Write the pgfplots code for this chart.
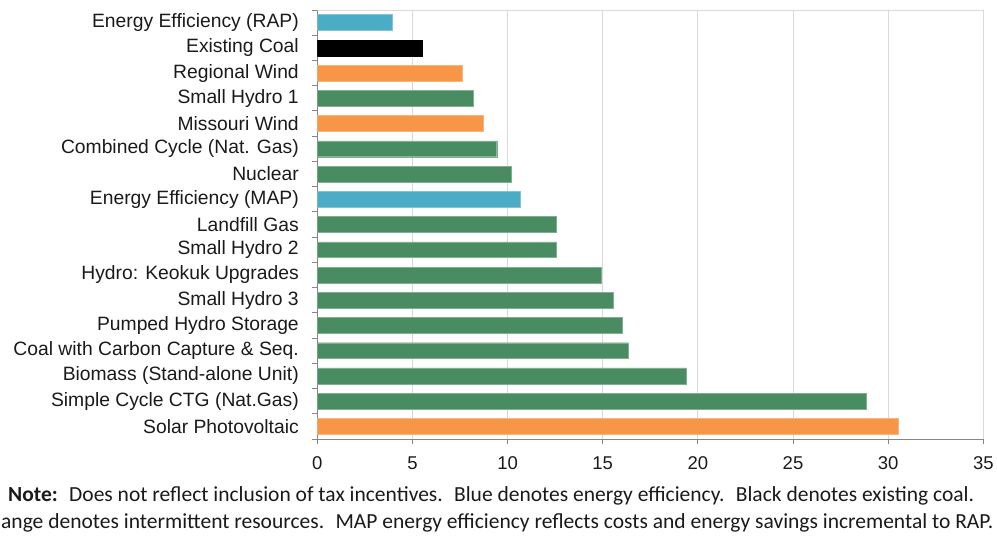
\documentclass[border=0pt]{standalone}
\usepackage{pgfplots}
\pgfplotsset{compat=1.18}
\usepackage{fontspec}
\setmainfont{Liberation Sans}
\newfontfamily\notefont{Carlito}
\definecolor{eeblue}{HTML}{4BACC6}
\definecolor{resorange}{HTML}{F79646}
\definecolor{resgreen}{HTML}{4A8C62}
\definecolor{gridgray}{HTML}{D9D9D9}
\definecolor{axisgray}{HTML}{868686}
\definecolor{txt}{HTML}{1A1A1A}
\begin{document}
\begin{tikzpicture}
\useasboundingbox (0pt,0pt) rectangle (997pt,537pt);
\begin{axis}[
  at={(317.3pt,98pt)}, anchor=south west,
  scale only axis, width=666pt, height=429pt,
  xbar, bar shift=0pt, bar width=0.63,
  xmin=0, xmax=35, ymin=-0.5, ymax=16.5,
  xtick={0,5,...,35},
  ytick={0,...,16},
  yticklabels={Solar Photovoltaic, Simple Cycle CTG (Nat.Gas), Biomass (Stand-alone Unit), Coal with Carbon Capture \& Seq., Pumped Hydro Storage, Small Hydro 3, Hydro: Keokuk Upgrades, Small Hydro 2, Landfill Gas, Energy Efficiency (MAP), Nuclear, Combined Cycle (Nat. Gas), Missouri Wind, Small Hydro 1, Regional Wind, Existing Coal, Energy Efficiency (RAP)},
  minor ytick={-0.5,0.5,...,16.5},
  xmajorgrids, major grid style={gridgray, line width=0.8pt},
  axis x line*=bottom, axis y line*=left,
  axis line style={axisgray, line width=0.9pt, -},
  tick align=outside,
  major tick length=5pt, minor tick length=5pt,
  major y tick style={draw=none},
  minor y tick style={axisgray, line width=0.9pt},
  major x tick style={axisgray, line width=0.9pt},
  /pgf/number format/assume math mode=true,
  yticklabel style={font=\fontsize{19.3}{21}\selectfont, text=txt, xshift=-10pt},
  xticklabel style={font=\fontsize{18.5}{20}\selectfont, text=txt, yshift=-9pt},
]
\draw[gridgray, line width=0.8pt] (rel axis cs:0,1) -- (rel axis cs:1,1);
\addplot[fill=eeblue, draw=eeblue!70!white] coordinates {(3.94,16) (10.64,9)};
\addplot[fill=black, draw=black] coordinates {(5.50,15)};
\addplot[fill=resorange, draw=resorange!70!white] coordinates {(7.64,14) (8.72,12) (30.53,0)};
\addplot[fill=resgreen, draw=resgreen!70!white] coordinates {(8.20,13) (9.43,11) (10.19,10) (12.56,8) (12.56,7) (14.94,6) (15.55,5) (16.01,4) (16.33,3) (19.39,2) (28.83,1)};
\end{axis}
\node[anchor=base west, inner sep=0, font=\notefont\fontsize{21.5}{24}\selectfont, text=txt] at (8pt,35pt) {\textbf{Note:}~ Does not reflect inclusion of tax incentives.~ Blue denotes energy efficiency.~ Black denotes existing coal.};
\node[anchor=base west, inner sep=0, font=\notefont\fontsize{21.5}{24}\selectfont, text=txt] at (1pt,8pt) {ange denotes intermittent resources.~ MAP energy efficiency reflects costs and energy savings incremental to RAP.};
\end{tikzpicture}
\end{document}
